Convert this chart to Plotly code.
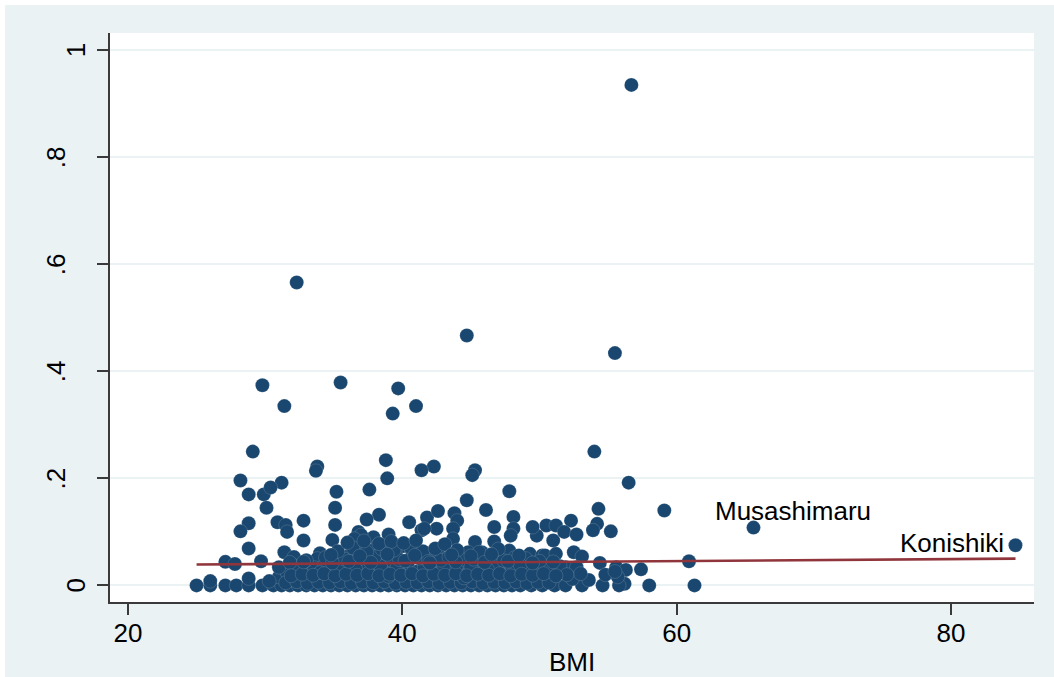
import plotly.graph_objects as go

# ---- data ----
bmi_upper = [56.7, 32.3, 44.7, 55.5, 29.8, 35.5, 39.7, 31.4, 41.0, 39.3, 29.1, 54.0, 38.8,
             33.8, 33.7, 42.3, 45.3, 45.1, 41.4, 38.9, 28.2, 31.2, 56.5, 35.2, 37.6, 47.8,
             28.8, 29.9, 30.4, 44.7, 59.1, 54.3, 35.1, 46.1, 30.1, 65.6, 84.7]
win_upper = [0.935, 0.566, 0.467, 0.434, 0.374, 0.379, 0.368, 0.335, 0.335, 0.321, 0.250, 0.250, 0.234,
             0.222, 0.214, 0.222, 0.215, 0.206, 0.215, 0.200, 0.196, 0.192, 0.192, 0.175, 0.179, 0.176,
             0.170, 0.170, 0.183, 0.159, 0.140, 0.143, 0.145, 0.141, 0.145, 0.108, 0.075]

bmi_mid = [28.8, 28.2, 30.9, 31.5, 31.6, 32.8, 32.8, 35.1, 38.3, 37.4, 40.5, 41.8, 34.9, 36.8,
           37.9, 39.0, 41.4, 42.6, 43.8, 44.0, 48.1, 42.5, 43.7, 46.7, 48.1, 43.7, 45.3, 46.7,
           47.9, 49.8, 50.5, 49.5, 52.3, 51.2, 51.8, 52.7, 51.0, 54.2, 53.9, 55.2, 41.6, 37.0, 36.5]
win_mid = [0.116, 0.101, 0.118, 0.113, 0.100, 0.121, 0.084, 0.113, 0.132, 0.123, 0.118, 0.127, 0.085, 0.100,
           0.090, 0.095, 0.103, 0.139, 0.135, 0.121, 0.128, 0.106, 0.106, 0.109, 0.106, 0.087, 0.081, 0.082,
           0.093, 0.093, 0.112, 0.109, 0.121, 0.112, 0.100, 0.095, 0.084, 0.115, 0.103, 0.101, 0.106, 0.094, 0.087]

bmi_low = [28.8, 31.4, 27.1, 27.8, 29.7, 32.1, 34.0, 38.2, 36.7, 40.0, 47.8, 49.3, 50.2, 45.8,
           44.8, 42.6, 47.1, 50.4, 51.2, 52.5, 53.1, 54.4, 55.6, 56.3, 57.4, 51.9, 52.7, 60.9,
           39.5, 41.0, 43.2, 37.3, 35.6, 46.3, 48.8, 33.2, 36.0, 38.8, 40.4, 42.0, 44.2, 45.6,
           49.6, 34.6, 37.6, 39.9, 42.7, 44.9, 36.2, 37.8, 38.6, 40.7, 41.7, 42.2, 39.2, 36.8,
           35.0, 33.8, 43.8, 46.8, 48.2, 44.6]
win_low = [0.069, 0.062, 0.044, 0.040, 0.045, 0.053, 0.060, 0.075, 0.065, 0.073, 0.065, 0.059, 0.056, 0.062,
           0.062, 0.065, 0.032, 0.056, 0.059, 0.062, 0.054, 0.042, 0.034, 0.029, 0.030, 0.034, 0.034, 0.045,
           0.060, 0.055, 0.050, 0.055, 0.050, 0.050, 0.045, 0.040, 0.035, 0.040, 0.042, 0.038, 0.040, 0.035,
           0.030, 0.030, 0.030, 0.030, 0.028, 0.028, 0.058, 0.065, 0.052, 0.065, 0.060, 0.050, 0.045, 0.045,
           0.045, 0.050, 0.058, 0.058, 0.052, 0.048]

bmi_base = [25.0, 26.0, 27.1, 27.9, 28.8, 29.8, 30.6, 31.2, 31.8, 32.4, 33.0, 33.6, 34.2, 34.8,
            35.4, 36.0, 36.6, 37.2, 37.8, 38.4, 39.0, 39.6, 40.2, 40.8, 41.4, 42.0, 42.6, 43.2,
            43.8, 44.4, 45.0, 45.6, 46.2, 46.8, 47.4, 48.0, 48.6, 49.4, 50.2, 51.1, 51.9, 53.1,
            54.6, 56.2, 58.0, 61.3, 55.8,
            26.0, 28.8, 31.0, 32.0, 33.3, 34.5, 35.7, 36.9, 38.1, 39.3, 40.5, 41.7, 42.9, 44.1,
            45.3, 46.5, 47.7, 48.4, 49.9, 50.8, 55.7, 52.4, 53.6, 30.3,
            31.6, 32.7, 33.9, 35.1, 36.3, 37.5, 38.7, 39.9, 41.1, 42.3, 43.5, 44.7, 45.9, 47.1,
            48.9, 50.3, 51.4, 53.0, 54.8, 55.5]
win_base = [0.0, 0.0, 0.0, 0.0, 0.0, 0.0, 0.0, 0.0, 0.0, 0.0, 0.0, 0.0, 0.0, 0.0,
            0.0, 0.0, 0.0, 0.0, 0.0, 0.0, 0.0, 0.0, 0.0, 0.0, 0.0, 0.0, 0.0, 0.0,
            0.0, 0.0, 0.0, 0.0, 0.0, 0.0, 0.0, 0.0, 0.0, 0.0, 0.0, 0.0, 0.0, 0.0,
            0.0, 0.003, 0.0, 0.0, 0.0,
            0.008, 0.013, 0.016, 0.012, 0.015, 0.010, 0.014, 0.012, 0.016, 0.010, 0.015, 0.012, 0.016, 0.010,
            0.014, 0.012, 0.010, 0.016, 0.012, 0.016, 0.016, 0.012, 0.010, 0.008,
            0.024, 0.028, 0.022, 0.026, 0.022, 0.020, 0.025, 0.021, 0.026, 0.022, 0.024, 0.020, 0.024, 0.022,
            0.025, 0.022, 0.026, 0.022, 0.020, 0.026]

# the densely packed cluster near the bottom
bmi_dense = [31.5, 32.3, 33.1, 33.9, 34.7, 35.5, 36.3, 37.1, 37.9, 38.7, 39.5, 40.3, 41.1,
             41.9, 42.7, 43.5, 44.3, 45.1, 45.9, 46.7, 47.5, 48.3, 49.1, 49.9, 50.7,
             31.0, 32.2, 33.6, 34.3, 35.4, 37.0, 38.4, 39.6, 41.6, 43.0, 45.0, 46.8, 48.0, 50.6, 51.5,
             33.0, 34.4, 35.8, 36.9, 38.0, 39.8, 41.2, 42.8, 43.4, 45.2, 47.4, 49.0,
             35.3, 36.4, 37.4, 38.5, 39.4, 40.6, 41.5, 42.4, 44.0, 45.6, 47.0,
             36.0, 37.2, 38.3, 39.2, 40.1, 41.0, 43.1,
             31.8, 34.0, 36.6, 39.0, 41.9, 44.5, 46.2, 48.6, 50.0, 52.0,
             31.9, 32.7, 33.5, 34.3, 35.1, 35.9, 36.7, 37.5, 38.3, 39.1, 39.9, 40.7, 41.5,
             42.3, 43.1, 43.9, 44.7, 45.5, 46.3, 47.1, 47.9, 48.7, 49.5, 50.3, 51.2,
             32.8, 34.9, 36.1, 37.7, 40.2, 42.0, 43.9, 46.0, 47.7, 49.5, 51.0,
             34.8, 36.9, 38.9, 40.9, 43.6, 45.0, 46.5, 48.5]
win_dense = [0.005, 0.007, 0.004, 0.006, 0.005, 0.007, 0.004, 0.006, 0.005, 0.007, 0.004, 0.006, 0.005,
             0.007, 0.004, 0.006, 0.005, 0.007, 0.004, 0.006, 0.005, 0.007, 0.004, 0.006, 0.005,
             0.034, 0.036, 0.033, 0.037, 0.035, 0.034, 0.036, 0.033, 0.035, 0.037, 0.034, 0.036, 0.033, 0.035, 0.036,
             0.047, 0.052, 0.049, 0.050, 0.054, 0.048, 0.051, 0.047, 0.053, 0.049, 0.046, 0.050,
             0.064, 0.070, 0.062, 0.068, 0.066, 0.071, 0.064, 0.069, 0.066, 0.062, 0.068,
             0.080, 0.083, 0.078, 0.082, 0.079, 0.084, 0.077,
             0.043, 0.024, 0.030, 0.017, 0.045, 0.014, 0.030, 0.038, 0.045, 0.020,
             0.018, 0.021, 0.019, 0.022, 0.018, 0.021, 0.019, 0.022, 0.018, 0.021, 0.019, 0.022, 0.018,
             0.021, 0.019, 0.022, 0.018, 0.021, 0.019, 0.022, 0.018, 0.021, 0.019, 0.022, 0.018,
             0.044, 0.042, 0.045, 0.043, 0.046, 0.042, 0.044, 0.043, 0.045, 0.042, 0.044,
             0.057, 0.055, 0.058, 0.056, 0.057, 0.055, 0.058, 0.056]

bmi = bmi_upper + bmi_mid + bmi_low + bmi_base + bmi_dense
winrate = win_upper + win_mid + win_low + win_base + win_dense

fit_bmi = [25.0, 84.7]
fit_win = [0.039, 0.050]

labels = ["Musashimaru", "Konishiki"]
label_bmi = [65.6, 84.7]
label_win = [0.108, 0.075]

y_ticks = [0, 0.2, 0.4, 0.6, 0.8, 1]
y_ticktext = ["0", ".2", ".4", ".6", ".8", "1"]
x_ticks = [20, 40, 60, 80]
x_ticktext = ["20", "40", "60", "80"]

NAVY = "#1A476F"
MAROON = "#90353B"
BG = "#EAF2F3"
FONT = "Liberation Sans, Arial, sans-serif"

fig = go.Figure()
fig.add_trace(go.Scatter(
    x=bmi, y=winrate, mode="markers",
    marker=dict(color=NAVY, size=14, line=dict(color="rgba(234,242,243,0.4)", width=0.4)),
    hoverinfo="skip", showlegend=False))
fig.add_trace(go.Scatter(
    x=fit_bmi, y=fit_win, mode="lines",
    line=dict(color=MAROON, width=2.6), hoverinfo="skip", showlegend=False))

annotations = []
annotations.append(dict(x=label_bmi[0], y=label_win[0], xref="x", yref="y", text=labels[0],
                        showarrow=False, xanchor="left", yanchor="middle", xshift=-40, yshift=17,
                        font=dict(family=FONT, size=26, color="#000000")))
annotations.append(dict(x=label_bmi[1], y=label_win[1], xref="x", yref="y", text=labels[1],
                        showarrow=False, xanchor="right", yanchor="middle", xshift=-9, yshift=2,
                        font=dict(family=FONT, size=26, color="#000000")))
for v, t in zip(y_ticks, y_ticktext):
    xp = -0.0184 if t in ("0", "1") else -0.040
    annotations.append(dict(x=xp, y=v, xref="paper", yref="y", text=t, showarrow=False,
                            textangle=-90, xanchor="right", yanchor="middle",
                            font=dict(family=FONT, size=26, color="#000000")))
annotations.append(dict(x=0.5, y=-0.105, xref="paper", yref="paper", text="BMI", showarrow=False,
                        xanchor="center", yanchor="middle",
                        font=dict(family=FONT, size=26, color="#000000")))

shapes = [
    dict(type="rect", xref="paper", yref="paper", x0=-0.125, x1=-0.1135, y0=-0.14, y1=1.07,
         fillcolor="white", line=dict(width=0), layer="below"),
    dict(type="rect", xref="paper", yref="paper", x0=-0.125, x1=1.03, y0=1.0493, y1=1.07,
         fillcolor="white", line=dict(width=0), layer="below"),
]

fig.update_layout(
    width=1054, height=677,
    margin=dict(l=110, r=20, t=33, b=75),
    paper_bgcolor=BG, plot_bgcolor="white",
    font=dict(family=FONT, size=26, color="#000000"),
    annotations=annotations, shapes=shapes,
    xaxis=dict(range=[18.69, 86.05], tickvals=x_ticks, ticktext=x_ticktext, automargin=False,
               showgrid=False, zeroline=False, showline=True, linecolor="#3a3a3a", linewidth=1.5,
               ticks="outside", ticklen=11, tickwidth=1.5, tickcolor="#3a3a3a",
               ticklabelstandoff=-4,
               tickfont=dict(family=FONT, size=26, color="#000000")),
    yaxis=dict(range=[-0.031, 1.032], tickvals=y_ticks, showticklabels=False, automargin=False,
               showgrid=True, gridcolor=BG, gridwidth=2, zeroline=False,
               showline=True, linecolor="#3a3a3a", linewidth=1.5,
               ticks="outside", ticklen=11, tickwidth=1.5, tickcolor="#3a3a3a"),
)

fig.write_html("out.html")
